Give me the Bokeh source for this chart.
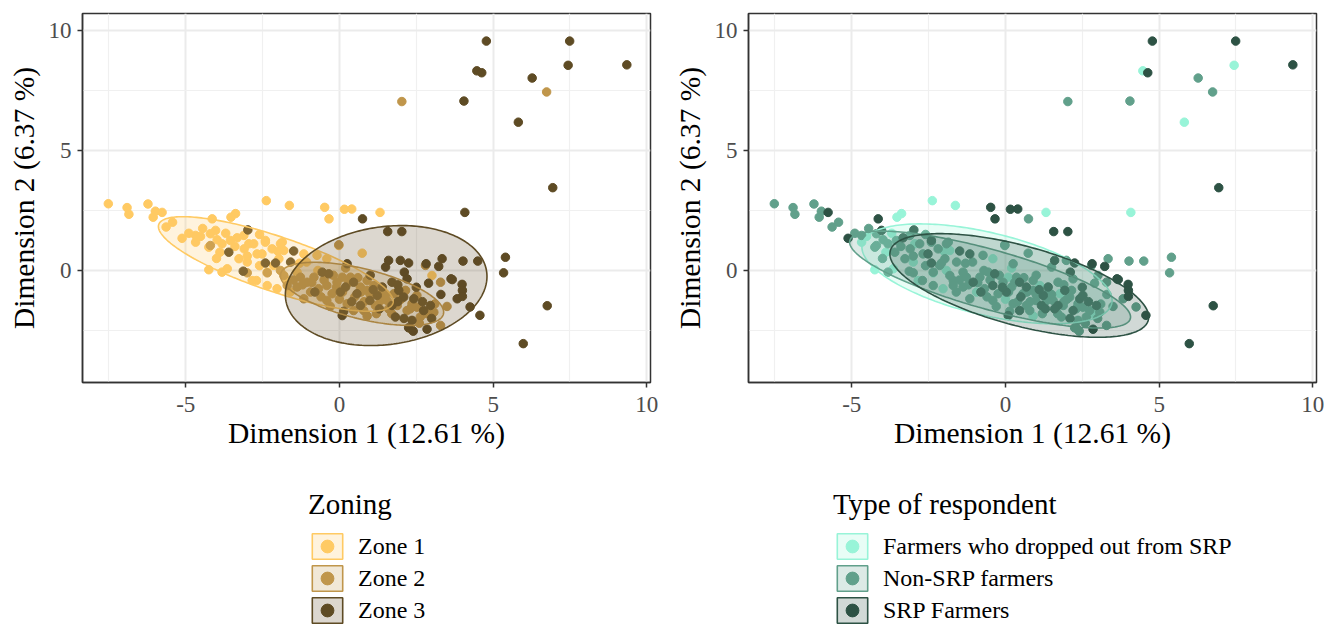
import numpy as np
from bokeh.plotting import figure
from bokeh.layouts import row, column
from bokeh.models import FixedTicker, Legend, LegendItem, ColumnDataSource, Range1d
from bokeh.embed import file_html
from bokeh.resources import INLINE

# ---------------- data (individual coordinates on MCA dimensions) ----------------
dim1 = [
    4.78, 7.49, 9.35, 7.44, 4.47, 4.63, 6.27, 6.74, 2.03, 4.05, 5.82, 6.94, 4.08, 5.40, 5.34, 6.76, 5.98, 4.57, 4.25,
    -7.52, -6.91, -6.85, -6.23, -5.99, -5.77, -6.06, -5.64, -5.43, -2.38, -1.63, -0.48, -0.34, 0.16, 0.40, 1.32,
    -3.38, -3.53, -4.14, 0.75, -5.12, 1.57, 2.03,
    -4.68, -4.52, -4.68, -4.20, -4.03, -3.98, -3.82, -3.89, -4.25, -3.55, -3.33, -3.11, -2.95, -2.79, -3.10,
    -3.27, -3.00, -2.68, -2.52, -2.41, -2.19, -1.86, -1.81, -1.97, -2.14, -2.35, -2.84, -2.70, -2.35, -2.03,
    -1.70, -1.38, -1.16, -1.07, -0.73, -0.02, 0.74, -4.25, -3.82, -3.65, -2.41, -1.92, -1.60, -0.41, -4.90,
    -4.45, -3.70, -2.60,
    -2.98, -3.60, -4.20, -3.13, -2.41, -2.08, -1.49, -1.59, -3.00, -2.35,
    1.60, 1.98, 2.25, 1.50, 2.11, 2.20, 3.34, 3.23, 4.02, 4.50, 3.67, 3.99, 4.00, 3.83, 4.00, 2.90, 2.85,
    2.25, 2.40, 2.36, 0.09, 0.14, 1.71, 1.82, 1.23, 0.99, 1.39, 1.71, 1.93, 2.09, 2.42, 2.74, 2.96, -0.56,
    -0.35, 0.25, 0.46, 0.57, 0.20, 0.03, 0.68, 2.82, 3.63,
    -0.02, 2.80, 3.01, 3.29, 3.29, -1.27, -1.05, -0.83, -1.38, -0.94, -0.68, -0.41, -0.24, -0.08, 0.09,
    0.36, 0.68, 0.90, 0.90, 1.12, 1.34, 1.17, 1.55, 1.88, 2.20, 2.52, 2.63, 2.85, 3.07, 2.36, 1.77, -0.41,
    0.25, 0.46, 0.79, -1.81, -1.70, -1.92, -1.16, 2.15, 2.52, -0.60, 0.10, 0.50, 1.00, 1.40, 0.60, -0.20,
    1.20, 1.60, 2.00, -1.50, -0.90, 2.33,
    -0.50, -0.10, 0.30, 0.70, 1.10, 1.50, 1.90, 2.30, 2.70, 3.10, 0.00, 0.40, 0.80, 1.30, 1.70, 2.10, 2.60,
    3.00, -1.20, -0.80, -0.30, 0.90, 1.90, 2.50, 3.30, 3.50, 1.00, 0.20, -0.70, -1.30, -2.00, -3.40, -4.00,
    -3.00, -2.60,
]
dim2 = [
    9.56, 9.56, 8.57, 8.55, 8.32, 8.24, 8.02, 7.44, 7.04, 7.06, 6.18, 3.45, 2.42, 0.55, -0.10, -1.47, -3.05, -1.87, -1.52,
    2.78, 2.62, 2.34, 2.77, 2.47, 2.42, 2.22, 1.81, 2.01, 2.91, 2.71, 2.63, 2.15, 2.55, 2.56, 2.42,
    2.37, 2.22, 2.15, 2.15, 1.34, 1.62, 1.62,
    1.46, 1.42, 1.18, 1.53, 1.67, 1.28, 1.11, 0.76, 0.97, 1.25, 1.36, 1.46, 1.11, 1.11, 0.90,
    0.49, 0.35, 0.69, 0.69, 1.25, 0.90, 1.18, 0.83, 0.49, 0.21, -0.07, -0.42, -0.42, -0.63, -0.76,
    -0.42, -0.07, 0.69, 0.35, 0.63, 1.04, 0.72, 0.03, -0.07, 0.07, 1.18, 1.11, -0.90, 0.49, 1.55,
    1.75, 1.55, 0.20,
    1.69, 0.76, 1.04, -0.03, 0.31, 0.31, 0.81, 0.35, -0.10, -0.10,
    0.42, 0.42, 0.31, 0.14, -0.07, -0.35, 0.49, 0.17, 0.39, 0.39, -0.38, -0.58, -0.83, -1.18, -1.08, -0.53, -2.45,
    -2.39, -2.53, -2.08, -1.88, -1.70, -1.46, -1.94, -1.04, -1.25, -0.69, -0.49, -0.83, -1.11, -1.18, -1.67, -1.46, -0.07,
    -0.14, 0.28, -0.49, -0.97, -0.69, -0.90, -1.46, 0.28, -0.35,
    1.07, 0.21, -0.21, -0.49, -2.29, -0.28, -0.49, -0.28, -0.69, -0.90, -0.76, -0.63, -0.97, -0.49, -0.28,
    -0.28, -0.69, -0.83, -0.42, -0.63, -1.25, -1.46, -1.25, -1.46, -1.67, -1.53, -1.94, -1.80, -1.74, -1.39, -0.97, -1.25,
    -1.39, -1.67, -1.67, -0.21, -0.63, 0.00, -1.18, -0.83, -1.04, -1.10, -0.90, -1.10, -1.00, -0.90, -0.30, -0.20,
    -1.80, -1.60, -1.20, -0.40, -0.50, -2.43,
    -0.40, -0.70, -0.50, -0.90, -0.80, -1.00, -1.30, -1.60, -1.30, -1.40, -1.20, -1.30, -1.30, -1.60, -1.80, -2.00, -2.20,
    -2.00, -0.60, -0.90, -1.50, -1.90, -0.60, -0.70, -1.00, -1.50, -0.20, 0.10, 0.00, 0.30, 0.80, 1.00, 0.50,
    0.60, 1.50,
]
zone = [
    3, 3, 3, 3, 3, 3, 3, 2, 2, 3, 3, 3, 3, 3, 3, 3, 3, 3, 3,
    1, 1, 1, 1, 1, 1, 1, 1, 1, 1, 1, 1, 1, 1, 1, 1,
    1, 1, 1, 3, 1, 3, 3,
    1, 1, 1, 1, 1, 1, 1, 1, 1, 1, 1, 1, 1, 1, 1,
    1, 1, 1, 1, 1, 1, 1, 1, 1, 1, 1, 1, 1, 1, 1,
    1, 1, 1, 1, 1, 1, 1, 1, 1, 1, 1, 1, 1, 1, 1,
    1, 1, 1,
    3, 3, 2, 3, 3, 3, 3, 3, 2, 2,
    3, 3, 3, 3, 3, 3, 3, 3, 3, 3, 3, 3, 3, 3, 3, 3, 3,
    3, 3, 3, 3, 3, 3, 3, 3, 3, 3, 3, 3, 3, 3, 3, 3, 3,
    3, 3, 3, 3, 3, 3, 3, 3, 3,
    2, 2, 1, 2, 2, 2, 2, 2, 2, 2, 2, 2, 2, 2, 2,
    2, 2, 2, 2, 2, 2, 2, 2, 2, 2, 2, 2, 2, 2, 2, 2, 2,
    2, 2, 2, 2, 2, 2, 2, 2, 2, 2, 2, 2, 2, 2, 2, 2,
    2, 2, 2, 2, 2, 2,
    2, 2, 2, 2, 3, 2, 3, 2, 3, 2, 2, 3, 2, 3, 2, 3, 2,
    3, 2, 3, 2, 2, 3, 3, 3, 2, 3, 2, 1, 1, 1, 1, 1,
    1, 1,
]
resp = [
    "S", "S", "S", "D", "D", "S", "N", "N", "N", "N", "D", "S", "D", "N", "N", "S", "S", "S", "N",
    "N", "N", "N", "N", "N", "S", "N", "N", "N", "D", "D", "S", "S", "S", "S", "D",
    "D", "D", "S", "N", "S", "S", "S",
    "N", "D", "D", "N", "S", "N", "N", "D", "N", "N", "S", "N", "D", "N", "N",
    "N", "D", "N", "S", "S", "N", "N", "D", "N", "N", "N", "D", "N", "N", "D",
    "N", "N", "S", "N", "N", "N", "N", "D", "N", "D", "N", "N", "N", "D", "N",
    "N", "D", "N",
    "S", "N", "N", "N", "S", "N", "S", "N", "N", "D",
    "S", "N", "S", "N", "S", "N", "N", "S", "N", "N", "S", "S", "S", "N", "S", "N", "S",
    "N", "N", "N", "S", "N", "S", "N", "S", "N", "S", "N", "S", "N", "S", "N", "S", "N",
    "S", "N", "S", "N", "N", "S", "N", "S", "S",
    "N", "N", "N", "N", "N", "N", "S", "N", "N", "D", "N", "S", "N", "N", "D",
    "N", "S", "N", "N", "D", "N", "S", "N", "N", "S", "N", "N", "D", "N", "N", "D", "N",
    "N", "S", "N", "N", "N", "D", "N", "N", "S", "N", "N", "S", "N", "N", "N", "N",
    "N", "S", "N", "N", "N", "N",
    "N", "S", "N", "N", "S", "N", "N", "N", "S", "N", "D", "N", "N", "S", "N", "S", "N",
    "N", "N", "S", "N", "D", "N", "S", "N", "N", "N", "D", "N", "N", "D", "N", "N",
    "N", "N",
]

zone_levels = [1, 2, 3]
zone_labels = ["Zone 1", "Zone 2", "Zone 3"]
zone_colors = ["#FFCA63", "#C0964B", "#5E4B24"]

resp_levels = ["D", "N", "S"]
resp_labels = ["Farmers who dropped out from SRP", "Non-SRP farmers", "SRP Farmers"]
resp_colors = ["#98F4D8", "#61A08B", "#2D5244"]

# concentration ellipses: centre, horizontal / vertical half-extent, covariance term
zone_ell_cx = [-2.07, 0.735, 1.52]
zone_ell_cy = [0.27, -0.975, -0.63]
zone_ell_hw = [3.82, 2.655, 3.28]
zone_ell_hh = [1.97, 1.315, 2.50]
zone_ell_cov = [-5.96, -2.03, 1.25]

resp_ell_cx = [-0.60, -0.50, 0.45]
resp_ell_cy = [-0.14, -0.38, -0.625]
resp_ell_hw = [4.07, 4.57, 4.21]
resp_ell_hh = [2.08, 2.02, 2.16]
resp_ell_cov = [-4.52, -7.13, -5.54]

x_ticks = [-5, 0, 5, 10]
x_minor = [-7.5, -2.5, 2.5, 7.5]
y_ticks = [0, 5, 10]
y_minor = [-2.5, 2.5, 7.5]

FONT = "Liberation Serif"
MAIN_H = 457
LEG_H = 624 - MAIN_H


def ellipse_xy(cx, cy, hw, hh, cov, n=240):
    S = np.array([[hw * hw, cov], [cov, hh * hh]])
    L = np.linalg.cholesky(S)
    t = np.linspace(0, 2 * np.pi, n)
    pts = L @ np.vstack([np.cos(t), np.sin(t)])
    return cx + pts[0], cy + pts[1]


def make_panel(groups, levels, labels, colors, ell, legend_title, border_right, legend_x):
    p = figure(frame_width=568, frame_height=369,
               min_border_left=82, min_border_right=border_right,
               min_border_top=13, min_border_bottom=MAIN_H - 13 - 369,
               x_range=Range1d(-8.36, 10.12), y_range=Range1d(-4.67, 10.71),
               output_backend="svg", toolbar_location=None)
    p.background_fill_color = "white"
    p.border_fill_color = "white"
    p.outline_line_color = "#333333"
    p.outline_line_width = 1.5

    p.xaxis.ticker = FixedTicker(ticks=x_ticks, minor_ticks=x_minor)
    p.yaxis.ticker = FixedTicker(ticks=y_ticks, minor_ticks=y_minor)
    p.xgrid.ticker = FixedTicker(ticks=x_ticks, minor_ticks=x_minor)
    p.ygrid.ticker = FixedTicker(ticks=y_ticks, minor_ticks=y_minor)
    p.xaxis.major_label_overrides = {-5: "-5"}
    for g in (p.xgrid, p.ygrid):
        g.grid_line_color = "#EBEBEB"
        g.grid_line_width = 2
        g.minor_grid_line_color = "#F0F0F0"
        g.minor_grid_line_width = 1.2

    p.xaxis.axis_label = "Dimension 1 (12.61 %)"
    p.yaxis.axis_label = "Dimension 2 (6.37 %)"
    for ax in (p.xaxis, p.yaxis):
        ax.axis_line_color = "#333333"
        ax.axis_line_width = 1.5
        ax.major_tick_line_color = "#333333"
        ax.major_tick_line_width = 1.5
        ax.major_tick_out = 5
        ax.major_tick_in = 0
        ax.minor_tick_line_color = None
        ax.major_label_text_font = FONT
        ax.major_label_text_font_size = "23px"
        ax.major_label_text_color = "#4D4D4D"
        ax.axis_label_text_font = FONT
        ax.axis_label_text_font_size = "29.5px"
        ax.axis_label_text_font_style = "normal"
        ax.axis_label_text_color = "black"
    p.xaxis.major_label_standoff = 9
    p.xaxis.axis_label_standoff = 2
    p.yaxis.major_label_standoff = 6
    p.yaxis.axis_label_standoff = 6

    xs = np.array(dim1)
    ys = np.array(dim2)
    g = np.array(groups)
    sources = []
    for lev, col in zip(levels, colors):
        m = g == lev
        src = ColumnDataSource(dict(x=xs[m], y=ys[m]))
        sources.append(src)
        p.scatter("x", "y", source=src, size=8.5, fill_color=col, line_color=col)
    ell_xy = []
    for i, col in enumerate(colors):
        ex, ey = ellipse_xy(ell[0][i], ell[1][i], ell[2][i], ell[3][i], ell[4][i])
        ell_xy.append((ex, ey))
        p.patch(ex, ey, fill_color=col, fill_alpha=0.22, line_color=col, line_width=1.6)

    # legend panel underneath: same renderers, with a view range that shows none of them,
    # so only the legend keys (ellipse fill box + point) are visible
    lw = 568 + 82 + border_right
    lf = figure(width=lw, height=LEG_H, x_range=Range1d(100, 101), y_range=Range1d(100, 101),
                min_border=0, output_backend="svg", toolbar_location=None)
    lf.axis.visible = False
    lf.grid.visible = False
    lf.outline_line_color = None
    lf.background_fill_color = "white"
    lf.border_fill_color = "white"
    items = []
    for i, (lab, col) in enumerate(zip(labels, colors)):
        pr = lf.patch(ell_xy[i][0], ell_xy[i][1], fill_color=col, fill_alpha=0.22,
                      line_color=col, line_width=1.6)
        sr = lf.scatter("x", "y", source=sources[i], size=8.5, fill_color=col, line_color=col)
        items.append(LegendItem(label=lab, renderers=[pr, sr]))
    leg = Legend(items=items, title=legend_title, location=(legend_x, -2),
                 orientation="vertical", padding=0, margin=0, spacing=0,
                 glyph_width=38, glyph_height=32, label_standoff=12,
                 label_text_font=FONT, label_text_font_size="24px", label_text_color="black",
                 title_text_font=FONT, title_text_font_size="29px", title_text_color="black",
                 title_text_font_style="normal", title_standoff=9,
                 border_line_color=None, background_fill_alpha=0)
    lf.add_layout(leg, "center")
    return column(p, lf)


c1 = make_panel(zone, zone_levels, zone_labels, zone_colors,
                (zone_ell_cx, zone_ell_cy, zone_ell_hw, zone_ell_hh, zone_ell_cov),
                "Zoning", 16, 226)
c2 = make_panel(resp, resp_levels, resp_labels, resp_colors,
                (resp_ell_cx, resp_ell_cy, resp_ell_hw, resp_ell_hh, resp_ell_cov),
                "Type of respondent", 9, 85)

layout = row(c1, c2)
open("out.html", "w").write(file_html(layout, INLINE))
